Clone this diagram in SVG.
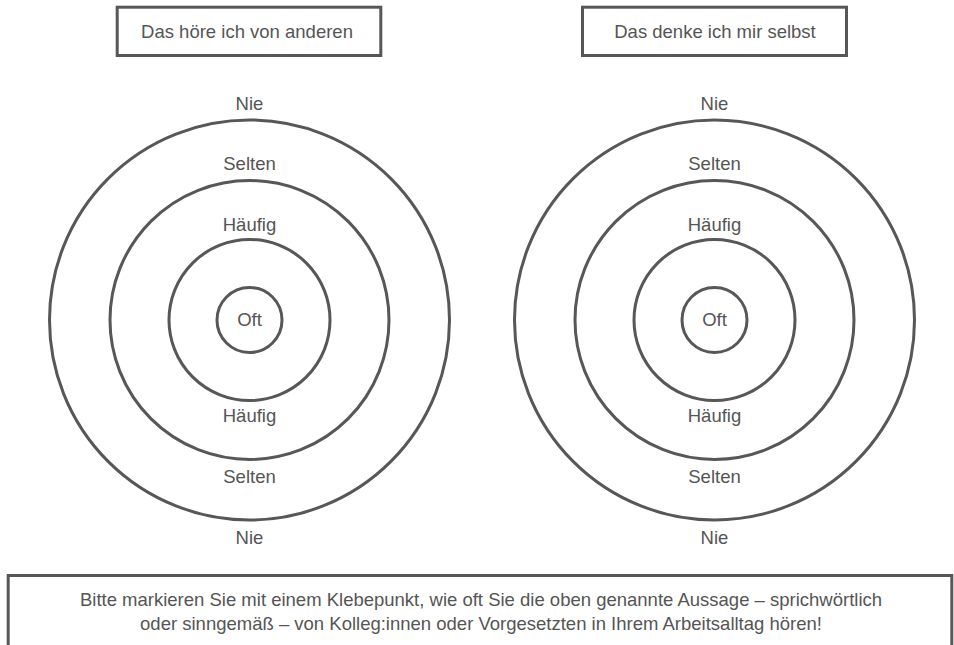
<svg xmlns="http://www.w3.org/2000/svg" width="954" height="645" viewBox="0 0 954 645">
<style>
.ring{fill:none;stroke:#575757;stroke-width:3}
.box{fill:#fff;stroke:#575757;stroke-width:3}
text{font-family:"Liberation Sans",Arial,sans-serif;font-size:18.5px;fill:#555;text-anchor:middle}
</style>
<rect width="954" height="645" fill="#fff"/>
<g id="title-left"><rect class="box" x="117.2" y="7.2" width="263.6" height="48.3"/><text x="247" y="38">Das höre ich von anderen</text></g>
<g id="title-right"><rect class="box" x="582.5" y="7.2" width="264" height="48.3"/><text x="715" y="38">Das denke ich mir selbst</text></g>
<g id="target-left">
<circle class="ring" cx="249.5" cy="320" r="200"/>
<circle class="ring" cx="249.5" cy="320" r="139.5"/>
<circle class="ring" cx="249.5" cy="320" r="80.5"/>
<circle class="ring" cx="249.5" cy="320" r="32.5"/>
<text x="249.5" y="110">Nie</text>
<text x="249.5" y="170">Selten</text>
<text x="249.5" y="230.5">Häufig</text>
<text x="249.5" y="326">Oft</text>
<text x="249.5" y="422">Häufig</text>
<text x="249.5" y="483">Selten</text>
<text x="249.5" y="544">Nie</text>
</g>
<g id="target-right">
<circle class="ring" cx="714.5" cy="320" r="200"/>
<circle class="ring" cx="714.5" cy="320" r="139.5"/>
<circle class="ring" cx="714.5" cy="320" r="80.5"/>
<circle class="ring" cx="714.5" cy="320" r="32.5"/>
<text x="714.5" y="110">Nie</text>
<text x="714.5" y="170">Selten</text>
<text x="714.5" y="230.5">Häufig</text>
<text x="714.5" y="326">Oft</text>
<text x="714.5" y="422">Häufig</text>
<text x="714.5" y="483">Selten</text>
<text x="714.5" y="544">Nie</text>
</g>
<g id="instruction"><rect class="box" x="8.2" y="575.5" width="943.6" height="100"/>
<text x="481" y="606">Bitte markieren Sie mit einem Klebepunkt, wie oft Sie die oben genannte Aussage – sprichwörtlich</text>
<text x="481" y="630">oder sinngemäß – von Kolleg:innen oder Vorgesetzten in Ihrem Arbeitsalltag hören!</text>
</g>
</svg>
